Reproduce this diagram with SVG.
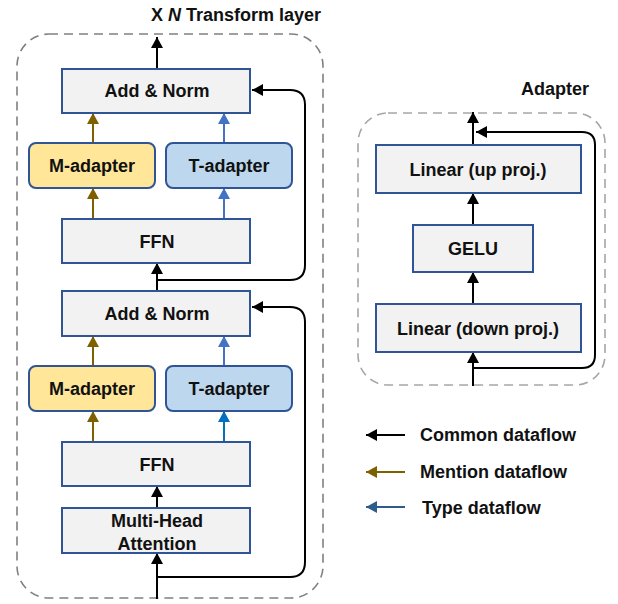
<svg xmlns="http://www.w3.org/2000/svg" width="618" height="604" viewBox="0 0 618 604">
<style>
  text { font-family: "Liberation Sans", Arial, sans-serif; font-weight: bold; fill: #111; }
  .lbl { font-size: 18px; text-anchor: middle; }
  .box { fill: #f2f2f2; stroke: #2f5597; stroke-width: 2; }
  .mad { fill: #ffe699; stroke: #2f5597; stroke-width: 2; }
  .tad { fill: #bdd7ee; stroke: #2f5597; stroke-width: 2; }
  .frame { fill: none; stroke: #808080; stroke-width: 1.6; stroke-dasharray: 9 6; }
  .frame2 { fill: none; stroke: #a6a6a6; stroke-width: 1.6; stroke-dasharray: 9 6; }
  .c { fill: none; stroke: #000; stroke-width: 2; }
  .m { fill: none; stroke: #7f6000; stroke-width: 2; }
  .t { fill: none; stroke: #4472c4; stroke-width: 2; }
  .t2 { fill: none; stroke: #0070c0; stroke-width: 2; }
  .tl { fill: none; stroke: #2e5c8a; stroke-width: 2; }
  .leg { font-size: 18px; }
</style>
<defs>
  <marker id="ak" markerUnits="userSpaceOnUse" markerWidth="12" markerHeight="12" refX="11" refY="6" orient="auto"><path d="M0,0 L11,6 L0,12 z" fill="#000"/></marker>
  <marker id="am" markerUnits="userSpaceOnUse" markerWidth="12" markerHeight="12" refX="11" refY="6" orient="auto"><path d="M0,0 L11,6 L0,12 z" fill="#7f6000"/></marker>
  <marker id="at" markerUnits="userSpaceOnUse" markerWidth="12" markerHeight="12" refX="11" refY="6" orient="auto"><path d="M0,0 L11,6 L0,12 z" fill="#4472c4"/></marker>
  <marker id="at2" markerUnits="userSpaceOnUse" markerWidth="12" markerHeight="12" refX="11" refY="6" orient="auto"><path d="M0,0 L11,6 L0,12 z" fill="#0070c0"/></marker>
  <marker id="atl" markerUnits="userSpaceOnUse" markerWidth="12" markerHeight="12" refX="11" refY="6" orient="auto"><path d="M0,0 L11,6 L0,12 z" fill="#2e5c8a"/></marker>
</defs>

<g id="frames">
  <rect class="frame" x="17" y="34" width="306" height="564" rx="32"/>
  <rect class="frame2" x="358" y="113" width="247" height="272" rx="30"/>
  <text x="151" y="21" style="font-size:18px">X <tspan font-style="italic">N</tspan> Transform layer</text>
  <text x="521" y="95" style="font-size:18px">Adapter</text>
</g>

<g id="connectors">
  <path class="c" d="M157,69 L157,37" marker-end="url(#ak)"/>
  <path class="c" d="M157,280 L290,280 Q305,280 305,265 L305,105 Q305,90 290,90 L252,90" marker-end="url(#ak)"/>
  <path class="m" d="M93,219 L93,188" marker-end="url(#am)"/>
  <path class="m" d="M93,143 L93,113" marker-end="url(#am)"/>
  <path class="t" d="M224,219 L224,188" marker-end="url(#at)"/>
  <path class="t" d="M224,143 L224,113" marker-end="url(#at)"/>
  <path class="c" d="M157,291 L157,263" marker-end="url(#ak)"/>
  <path class="m" d="M93,366 L93,336" marker-end="url(#am)"/>
  <path class="t" d="M224,366 L224,336" marker-end="url(#at)"/>
  <path class="m" d="M93,442 L93,411" marker-end="url(#am)"/>
  <path class="t2" d="M224,442 L224,411" marker-end="url(#at2)"/>
  <path class="c" d="M157,508 L157,486" marker-end="url(#ak)"/>
  <path class="c" d="M157,599 L157,553" marker-end="url(#ak)"/>
  <path class="c" d="M157,577 L290,577 Q305,577 305,562 L305,322 Q305,307 290,307 L252,307" marker-end="url(#ak)"/>

  <path class="c" d="M473,145 L473,112" marker-end="url(#ak)"/>
  <path class="c" d="M473,225 L473,193" marker-end="url(#ak)"/>
  <path class="c" d="M473,304 L473,272" marker-end="url(#ak)"/>
  <path class="c" d="M473,386 L473,352" marker-end="url(#ak)"/>
  <path class="c" d="M473,368 L582,368 Q595,368 595,355 L595,145 Q595,132 582,132 L476,132" marker-end="url(#ak)"/>
</g>

<g id="addnorm1"><rect class="box" x="62" y="69" width="188" height="44"/><text class="lbl" x="157" y="97">Add &amp; Norm</text></g>
<g id="madapter1"><rect class="mad" x="29" y="143" width="126" height="45" rx="7"/><text class="lbl" x="92" y="172">M-adapter</text></g>
<g id="tadapter1"><rect class="tad" x="166" y="143" width="126" height="45" rx="7"/><text class="lbl" x="229" y="172">T-adapter</text></g>
<g id="ffn1"><rect class="box" x="62" y="219" width="188" height="44"/><text class="lbl" x="157" y="248">FFN</text></g>
<g id="addnorm2"><rect class="box" x="62" y="291" width="188" height="45"/><text class="lbl" x="157" y="320">Add &amp; Norm</text></g>
<g id="madapter2"><rect class="mad" x="29" y="366" width="126" height="45" rx="7"/><text class="lbl" x="92" y="395">M-adapter</text></g>
<g id="tadapter2"><rect class="tad" x="166" y="366" width="126" height="45" rx="7"/><text class="lbl" x="229" y="395">T-adapter</text></g>
<g id="ffn2"><rect class="box" x="62" y="442" width="188" height="44"/><text class="lbl" x="157" y="471">FFN</text></g>
<g id="mha"><rect class="box" x="62" y="508" width="188" height="45"/><text class="lbl" x="157" y="527">Multi-Head</text><text class="lbl" x="157" y="550">Attention</text></g>

<g id="linear-up"><rect class="box" x="376" y="145" width="205" height="48"/><text class="lbl" x="478" y="176">Linear (up proj.)</text></g>
<g id="gelu"><rect class="box" x="413" y="225" width="120" height="47"/><text class="lbl" x="473" y="255">GELU</text></g>
<g id="linear-down"><rect class="box" x="376" y="304" width="205" height="48"/><text class="lbl" x="478" y="335">Linear (down proj.)</text></g>

<g id="legend">
  <path class="c" d="M405,435 L366,435" marker-end="url(#ak)"/>
  <text class="leg" x="420" y="441">Common dataflow</text>
  <path class="m" d="M405,472 L366,472" marker-end="url(#am)"/>
  <text class="leg" x="420" y="478">Mention dataflow</text>
  <path class="tl" d="M405,507 L366,507" marker-end="url(#atl)"/>
  <text class="leg" x="422" y="514">Type dataflow</text>
</g>
</svg>
